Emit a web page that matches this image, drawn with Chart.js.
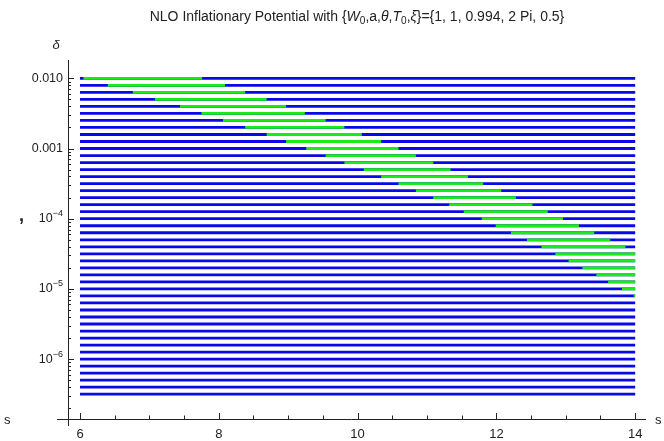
<!DOCTYPE html>
<html>
<head>
<meta charset="utf-8">
<script src="https://cdn.jsdelivr.net/npm/chart.js@4/dist/chart.umd.min.js"></script>
<style>
  body { margin: 0; background: #fff; }
  canvas { display: block; }
</style>
</head>
<body>
<canvas id="chart" width="664" height="441"></canvas>
<script>
// log10 of each delta level (one horizontal line per level)
var deltaExp = [-2.0, -2.1, -2.2, -2.3, -2.4, -2.5, -2.6, -2.7, -2.8, -2.9,
                -3.0, -3.1, -3.2, -3.3, -3.4, -3.5, -3.6, -3.7, -3.8, -3.9,
                -4.0, -4.1, -4.2, -4.3, -4.4, -4.5, -4.6, -4.7, -4.8, -4.9,
                -5.0, -5.1, -5.2, -5.3, -5.4, -5.5, -5.6, -5.7, -5.8, -5.9,
                -6.0, -6.1, -6.2, -6.3, -6.4, -6.5];
// s range scanned on every line
var sMin = 6, sMax = 14;
// inflating region (green) on the first levels
var greenStart = [6.05, 6.40, 6.76, 7.08, 7.44, 7.75, 8.06, 8.38, 8.69, 8.97,
                  9.26, 9.54, 9.81, 10.09, 10.34, 10.59, 10.84, 11.09, 11.32, 11.53,
                  11.79, 11.99, 12.21, 12.44, 12.65, 12.85, 13.04, 13.24, 13.44, 13.61,
                  13.81, 13.98];
var greenEnd = [7.76, 8.09, 8.38, 8.69, 8.97, 9.24, 9.54, 9.81, 10.06, 10.34,
                10.59, 10.84, 11.09, 11.34, 11.59, 11.81, 12.07, 12.28, 12.52, 12.74,
                12.96, 13.19, 13.41, 13.64, 13.86, 14, 14, 14, 14, 14,
                14, 14];
var xTicks = [6, 8, 10, 12, 14];
var yTickExp = [-2, -3, -4, -5, -6];

var blueData = [];
deltaExp.forEach(function (e) {
    var d = Math.pow(10, e);
    blueData.push({x: sMin, y: d}, {x: sMax, y: d}, {x: sMax, y: null});
});
var greenData = [];
for (var i = 0; i < greenStart.length; i++) {
    var d = Math.pow(10, deltaExp[i]);
    greenData.push({x: greenStart[i], y: d}, {x: greenEnd[i], y: d}, {x: greenEnd[i], y: null});
}

var FONT = "'Liberation Sans', Arial, sans-serif";

// draw a run of text pieces (italic / sub / sup) starting at x
function richWidth(ctx, parts, size) {
    var w = 0;
    parts.forEach(function (p) {
        var s = p.small ? size * 0.72 : size;
        ctx.font = (p.it ? "italic " : "") + s + "px " + FONT;
        w += ctx.measureText(p.t).width;
    });
    return w;
}
function drawRich(ctx, parts, x, y, size, align) {
    var w = richWidth(ctx, parts, size);
    if (align === "center") x -= w / 2;
    if (align === "right") x -= w;
    ctx.textBaseline = "middle";
    ctx.textAlign = "left";
    parts.forEach(function (p) {
        var s = p.small ? size * 0.72 : size;
        ctx.font = (p.it ? "italic " : "") + s + "px " + FONT;
        ctx.fillText(p.t, x, y + (p.dy || 0));
        x += ctx.measureText(p.t).width;
    });
}

var axesPlugin = {
    id: "axesPlugin",
    afterDraw: function (chart) {
        var ctx = chart.ctx;
        var xs = chart.scales.x, ys = chart.scales.y;
        var area = chart.chartArea;
        var x0 = area.left, y0 = area.bottom;
        ctx.save();
        ctx.strokeStyle = "#222";
        ctx.fillStyle = "#222";
        ctx.lineWidth = 1;

        // axes lines
        ctx.beginPath();
        ctx.moveTo(x0 - 11, y0 + 0.5);
        ctx.lineTo(area.right, y0 + 0.5);
        ctx.moveTo(x0 + 0.5, area.top);
        ctx.lineTo(x0 + 0.5, y0 + 7);
        ctx.stroke();

        // x ticks every 0.5, long ones at labels
        ctx.beginPath();
        for (var v = 6; v <= 14.001; v += 0.5) {
            var px = Math.round(xs.getPixelForValue(v)) + 0.5;
            var len = (xTicks.indexOf(v) >= 0) ? 6 : 3.5;
            ctx.moveTo(px, y0);
            ctx.lineTo(px, y0 - len);
        }
        ctx.stroke();
        xTicks.forEach(function (v) {
            drawRich(ctx, [{t: String(v)}], xs.getPixelForValue(v), y0 + 15, 13, "center");
        });

        // y ticks: decades long, 2..9 short
        ctx.beginPath();
        for (var e = -7; e <= -2; e++) {
            for (var m = 1; m <= 9; m++) {
                var val = m * Math.pow(10, e);
                if (val < ys.min || val > ys.max) continue;
                var py = Math.round(ys.getPixelForValue(val)) + 0.5;
                var l = (m === 1) ? 6 : 3;
                ctx.moveTo(x0, py);
                ctx.lineTo(x0 + l, py);
            }
        }
        ctx.stroke();
        yTickExp.forEach(function (e) {
            var py = ys.getPixelForValue(Math.pow(10, e));
            var parts;
            if (e === -2) parts = [{t: "0.010"}];
            else if (e === -3) parts = [{t: "0.001"}];
            else parts = [{t: "10"}, {t: "\u2212" + (-e), small: true, dy: -5}];
            drawRich(ctx, parts, x0 - 5, py, 12.5, "right");
        });

        // axis labels
        drawRich(ctx, [{t: "\u03b4", it: true}], 56, 45, 13, "center");
        drawRich(ctx, [{t: "s"}], 4, y0 + 1, 13, "left");
        drawRich(ctx, [{t: "s"}], 655, y0 + 1, 13, "left");
        ctx.font = "bold 18px " + FONT;
        ctx.textBaseline = "alphabetic";
        ctx.fillText(",", 19, 221);

        // title
        var title = [
            {t: "NLO Inflationary Potential with {"},
            {t: "W", it: true}, {t: "0", small: true, dy: 4},
            {t: ",a,"}, {t: "\u03b8", it: true}, {t: ","},
            {t: "T", it: true}, {t: "0", small: true, dy: 4},
            {t: ","}, {t: "\u03be", it: true},
            {t: "}={1, 1, 0.994, 2 Pi, 0.5}"}
        ];
        drawRich(ctx, title, 357, 17, 14, "center");
        ctx.restore();
    }
};

var ctx = document.getElementById("chart");
var myChart = new Chart(ctx, {
    type: "line",
    data: {
        datasets: [{
            data: greenData,
            borderColor: "#17ec17",
            borderWidth: 2.8,
            pointRadius: 0,
            spanGaps: false,
            borderCapStyle: "butt",
            order: 0
        }, {
            data: blueData,
            borderColor: "#0808e8",
            borderWidth: 2.8,
            pointRadius: 0,
            spanGaps: false,
            borderCapStyle: "butt",
            order: 1
        }]
    },
    options: {
        responsive: false,
        animation: false,
        layout: { padding: { left: 68, right: 18, top: 60, bottom: 22 } },
        scales: {
            x: { type: "linear", min: 5.827, max: 14.156, display: false },
            y: { type: "logarithmic", min: Math.pow(10, -6.853), max: Math.pow(10, -1.739), display: false }
        },
        plugins: { legend: { display: false }, tooltip: { enabled: false } }
    },
    plugins: [axesPlugin]
});
</script>
</body>
</html>
